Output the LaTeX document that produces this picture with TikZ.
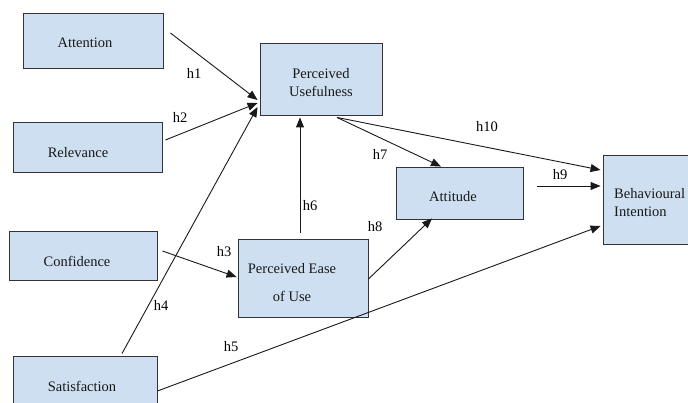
\documentclass[tikz,border=0pt]{standalone}
\usepackage{fontspec}
\setmainfont{Liberation Serif}
\newfontfamily\tnr{Liberation Serif}
\usetikzlibrary{arrows.meta}
\definecolor{boxblue}{RGB}{205,223,240}
\begin{document}
\begin{tikzpicture}[x=1pt,y=-1pt,
 box/.style={draw=black!80,line width=0.9pt,fill=boxblue,inner sep=0pt},
 txt/.style={font=\tnr\fontsize{14.5}{18}\selectfont,text=black!90,inner sep=0pt},
 lab/.style={font=\tnr\fontsize{14.5}{16}\selectfont,inner sep=0pt},
 arr/.style={line width=0.9pt,draw=black!90,-{Triangle[length=10pt,width=8pt]}},
 ln/.style={line width=0.9pt,draw=black!90}]
\useasboundingbox[fill=white] (0,0) rectangle (688,403);
% boxes
\node[box,minimum width=140pt,minimum height=55pt] (att) at (93,40.5) {};
\node[box,minimum width=149pt,minimum height=50pt] (rel) at (87.5,147) {};
\node[box,minimum width=148pt,minimum height=49pt] (con) at (83,255.5) {};
\node[box,minimum width=144pt,minimum height=54pt] (sat) at (85,383) {};
\node[box,minimum width=122pt,minimum height=72pt] (pu) at (321,79) {};
\node[box,minimum width=130pt,minimum height=78pt] (peou) at (303,278) {};
\node[box,minimum width=127pt,minimum height=52pt] (atti) at (459.5,193) {};
\node[box,minimum width=89pt,minimum height=89pt] (bi) at (647.5,199.5) {};
% texts
\node[txt] (attT) at (85,43) {Attention};
\node[txt] (relT) at (78,153) {Relevance};
\node[txt] (conT) at (77,261) {Confidence};
\node[txt] (satT) at (82,386) {Satisfaction};
\node[txt,align=center] (puT) at (321,83) {Perceived\\Usefulness};
\node[txt,align=center] (peouT) at (292,283) {Perceived Ease\\[10pt]of Use};
\node[txt] (attiT) at (453,197) {Attitude};
\node[txt,align=left,anchor=west] (biT) at (614,203) {Behavioural\\Intention};
% arrows
\draw[arr] ([shift={(7,-7.5)}]att.east) -- ([shift={(-2,21)}]pu.west);
\draw[arr] ([shift={(3,-7)}]rel.east) -- ([shift={(-2,24)}]pu.west);
\draw[arr] ([shift={(37,-2)}]sat.north) -- ([shift={(-2,28)}]pu.west);
\draw[arr] ([shift={(-3,-6)}]peou.north) -- ([shift={(-21,2)}]pu.south);
\draw[arr] ([shift={(5,-4.5)}]con.east) -- ([shift={(-1,-1)}]peou.west);
\draw[arr] ([shift={(16,2)}]pu.south) -- ([shift={(-18.5,0)}]atti.north);
\draw[arr] ([shift={(16,2)}]pu.south) -- ([shift={(-2,-29.5)}]bi.west);
\draw[arr] ([shift={(14,-7)}]atti.east) -- ([shift={(-2,-13.5)}]bi.west);
\draw[arr] ([shift={(0,1)}]peou.east) -- ([shift={(-27.5,-1)}]atti.south);
\draw[arr] ([shift={(0,8)}]sat.east) -- ([shift={(-2,26.5)}]bi.west);
% labels
\node[lab] (l1) at (194,73) {h1};
\node[lab] (l2) at (180,117) {h2};
\node[lab] (l3) at (224,252) {h3};
\node[lab] (l4) at (161,305) {h4};
\node[lab] (l5) at (231,347) {h5};
\node[lab] (l6) at (310,206) {h6};
\node[lab] (l7) at (380,154) {h7};
\node[lab] (l8) at (375,227) {h8};
\node[lab] (l9) at (560,175) {h9};
\node[lab] (l10) at (487,127) {h10};
\end{tikzpicture}
\end{document}
